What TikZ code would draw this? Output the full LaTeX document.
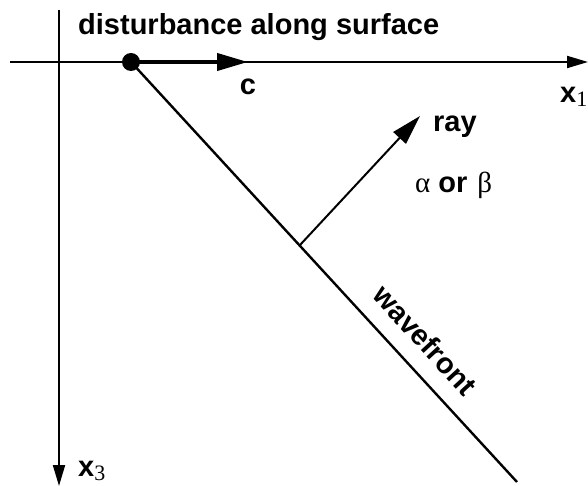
\documentclass[tikz,border=0pt]{standalone}
\usepackage{fontspec}
\setmainfont{Liberation Sans}
\newfontfamily\symfont{Liberation Serif}
\usetikzlibrary{arrows.meta, positioning}

\begin{document}
\begin{tikzpicture}[
  x=1pt, y=-1pt,
  axis/.style={line width=2pt, -{Triangle[length=21pt, width=12pt]}},
  speed/.style={line width=4pt, -{Triangle[length=31pt, width=17pt]}},
  raydir/.style={line width=2pt, -{Triangle[length=30pt, width=17pt]}},
  front/.style={line width=2.4pt},
  lbl/.style={font=\fontsize{29}{34}\selectfont\bfseries, inner sep=0pt},
  sub/.style={font=\fontsize{23}{28}\selectfont\symfont\mdseries}
]
\useasboundingbox (0,0) rectangle (588,486);
\coordinate (west) at (10,62);
\coordinate (east) at (588,62);
\coordinate (north) at (59,10);
\coordinate (south) at (59,486);
\node[circle, fill, inner sep=0pt, minimum size=18pt] (src) at (131,62) {};
\coordinate (ctip) at (248,62);
\coordinate (end) at (517,482);
\coordinate (foot) at (300,245);
\coordinate (raytip) at (420,116);
\draw[axis] (west) -- (east);
\draw[axis] (north) -- (south);
\draw[front] (src.center) -- (end);
\draw[speed] (src.center) -- (ctip);
\draw[raydir] (foot) -- (raytip);
\node[lbl, anchor=base west] (title) at (78,35) {disturbance along surface};
\node[lbl, anchor=base] (c) at (248,95) {c};
\node[lbl, anchor=base west] (xone) at (560,103) {x\raisebox{-4pt}{\symfont\mdseries\fontsize{22}{26}\selectfont 1}};
\node[lbl, anchor=base west] (xthree) at (78,476) {x\raisebox{-4pt}{\symfont\mdseries\fontsize{22}{26}\selectfont 3}};
\node[lbl, anchor=base west] (ray) at (433,132) {ray};
\node[lbl, anchor=base west] (speeds) at (415,193) {{\symfont\mdseries α}\hspace{8pt}or\hspace{10pt}{\symfont\mdseries β}};
\node[lbl, rotate=-47.5] (wave) at (425,340) {wavefront};
\end{tikzpicture}
\end{document}
